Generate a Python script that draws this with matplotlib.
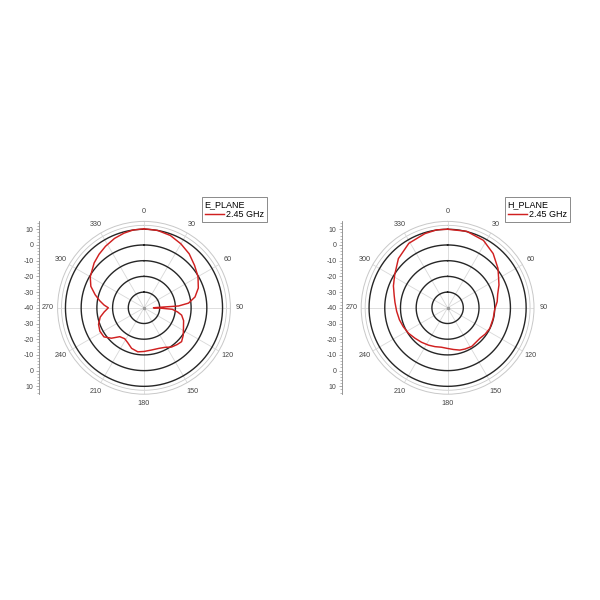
import numpy as np
import matplotlib
matplotlib.use("Agg")
import matplotlib.pyplot as plt
from matplotlib.ticker import MultipleLocator

plt.rcParams['font.family'] = ['Liberation Sans', 'DejaVu Sans']

# E-plane pattern, 2.45 GHz (angle in deg, gain in dB)
e_angle = [0, 10, 20, 30, 40, 50, 60, 70, 78, 84, 87, 89, 90, 91, 93, 97, 101,
           108, 117, 125, 132, 138, 145, 152, 160, 170, 180, 188, 197, 205, 212,
           220, 227, 234, 242, 250, 258, 264, 270, 274, 279, 285, 292, 300, 312,
           320, 328, 337, 345, 352, 360]
e_gain = [10.3, 10.0, 9.0, 7.0, 4.8, 2.0, -0.3, -3.2, -6.8, -11.5, -18, -33, -34,
          -30, -22, -18.5, -15.6, -13.5, -11.8, -9.5, -7.8, -8.5, -9.5, -11.5,
          -12.5, -12.7, -12.2, -11.7, -13.0, -15.5, -16.8, -16.0, -11.6, -8.5,
          -8.2, -9.2, -11.5, -14.5, -17.3, -14.5, -11.5, -7.8, -3.5, -0.5, 2.7,
          4.5, 6.2, 8.0, 9.2, 10.0, 10.3]

# H-plane pattern, 2.45 GHz
h_angle = [0, 14, 28, 40, 52, 60, 66, 75, 83, 92, 103, 116, 125, 133, 148, 157,
           164, 172, 181, 189, 198, 207, 217, 227, 237, 247, 256, 266, 276, 283,
           292, 302, 315, 329, 343, 352, 360]
h_gain = [10.0, 10.2, 8.6, 5.1, 0.7, -2.5, -4.2, -7.0, -8.2, -10.0, -10.2, -10.1,
          -10.8, -11.7, -11.0, -11.5, -12.0, -13.2, -14.2, -14.6, -14.0, -13.3,
          -12.5, -11.6, -10.3, -9.3, -8.4, -7.5, -6.3, -5.1, -2.8, -0.3, 4.3,
          7.9, 9.4, 10.1, 10.0]

r_min, r_max = -40, 15
rings = [-30, -20, -10, 0, 10]
angle_ticks = list(range(0, 360, 30))
scale_ticks = list(range(-50, 51, 10))
scale_labels = [str(abs(t) + r_min) for t in scale_ticks]

red = '#d02020'
grey = '#c8c8c8'

fig = plt.figure(figsize=(6, 6), dpi=100)


def polar_panel(cx, axis_x, angle, gain, name, leg_x):
    size = 0.288
    ax = fig.add_axes([cx - size / 2, 0.343, size, size], projection='polar')
    ax.set_theta_zero_location('N')
    ax.set_theta_direction(-1)
    ax.set_ylim(r_min, r_max)

    th = np.linspace(0, 2 * np.pi, 361)
    for r in rings:
        ax.plot(th, np.full_like(th, r), color='#262626', lw=1.0, zorder=2)
    ax.plot(th, np.full_like(th, 12.5), color=grey, lw=0.6, zorder=1)

    ax.set_yticks([])
    ax.set_thetagrids(angle_ticks, [str(a) for a in angle_ticks])
    ax.xaxis.grid(True, color='#d8d8d8', lw=0.6)
    ax.tick_params(axis='x', labelsize=5.2, colors='#444444', pad=-3.5)
    ax.spines['polar'].set_color(grey)
    ax.spines['polar'].set_linewidth(0.7)
    ax.plot([0], [r_min], marker='o', ms=1.5, color='#999999', zorder=3)

    line, = ax.plot(np.deg2rad(angle), gain, color=red, lw=1.05, zorder=4,
                    label='2.45 GHz')

    leg = fig.legend(handles=[line], title=name, loc='upper right',
                     bbox_to_anchor=(leg_x, 0.671), fontsize=6.5,
                     title_fontsize=6.5, alignment='left', frameon=True,
                     fancybox=False, handlelength=2.2, handletextpad=0.2,
                     borderpad=0.3, labelspacing=0.1, borderaxespad=0)
    leg.get_frame().set_edgecolor('#555555')
    leg.get_frame().set_linewidth(0.6)

    # the straight dB scale at the left of the polar chart
    sx = fig.add_axes([axis_x, 0.343, 0.001, size])
    sx.set_ylim(-55, 55)
    sx.set_xticks([])
    for s in ['top', 'right', 'bottom']:
        sx.spines[s].set_visible(False)
    sx.spines['left'].set_color('#888888')
    sx.spines['left'].set_linewidth(0.6)
    sx.set_yticks(scale_ticks)
    sx.set_yticklabels(scale_labels)
    sx.yaxis.set_minor_locator(MultipleLocator(2))
    sx.tick_params(axis='y', which='major', labelsize=5.0, colors='#888888',
                   labelcolor='#444444', length=2.5, width=0.5, pad=1.5)
    sx.tick_params(axis='y', which='minor', colors='#888888', length=1.3,
                   width=0.4)
    sx.patch.set_visible(False)


polar_panel(0.240, 0.065, e_angle, e_gain, 'E_PLANE', 0.445)
polar_panel(0.746, 0.570, h_angle, h_gain, 'H_PLANE', 0.950)

fig.savefig('out.png', dpi=100)
